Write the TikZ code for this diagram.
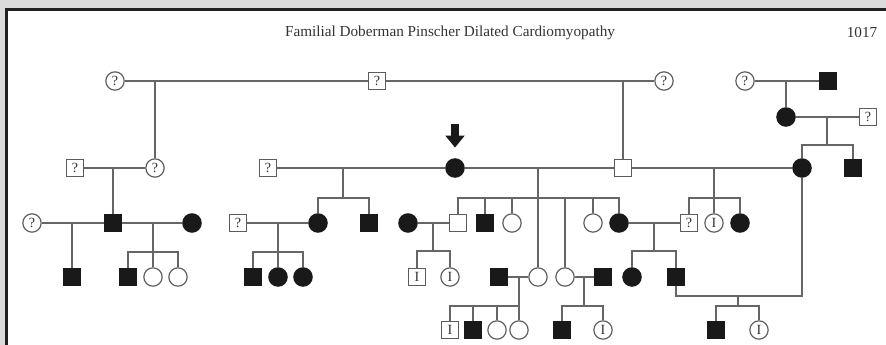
\documentclass[tikz,border=0pt]{standalone}
\usepackage{fontspec}
\setmainfont{Liberation Serif}
\usepackage{tikz}
\usetikzlibrary{calc,arrows.meta}
\usepackage{xcolor}
\definecolor{bgg}{gray}{0.86}
\definecolor{rim}{gray}{0.13}
\definecolor{lineg}{gray}{0.4}
\definecolor{symg}{gray}{0.36}
\definecolor{aff}{gray}{0.1}
\definecolor{txt}{gray}{0.2}

\begin{document}
\begin{tikzpicture}[x=0.3mm,y=-0.3mm,>={Triangle[length=3.6mm,width=5.6mm]},
  ln/.style={draw=lineg,line width=1.15pt},
  male/.style={rectangle,draw=symg,line width=1pt,fill=white,minimum size=5.3mm,inner sep=0pt,
    text=txt,font=\fontsize{12}{12}\selectfont},
  female/.style={male,circle,minimum size=5.5mm},
  maleA/.style={male,fill=aff,draw=aff},
  femaleA/.style={female,fill=aff,draw=aff},
  title/.style={text=txt,font=\fontsize{13}{13}\selectfont}]

\useasboundingbox (0,0) rectangle (886,345);
\fill[bgg] (0,0) rectangle (886,345);
\fill[white] (6.5,9.5) rectangle (886,345);
\draw[rim,line width=0.9mm] (6.5,345)--(6.5,9.5)--(886,9.5);

\node[title] (ttl) at (450,33) {Familial Doberman Pinscher Dilated Cardiomyopathy};
\node[title] (pg) at (862,33) {1017};

%generation I
\node[female] (a1) at (115,81) {?};
\node[male] (a2) at (377,81) {?};
\node[female] (a3) at (664,81) {?};
\node[female] (a4) at (745,81) {?};
\node[maleA] (a5) at (828,81) {};
\node[femaleA] (r1) at (786,117) {};
\node[male] (r2) at (868,117) {?};

%generation II
\node[male] (b1) at (75,168) {?};
\node[female] (b2) at (155,168) {?};
\node[male] (b3) at (268,168) {?};
\node[femaleA] (b4) at (455,168) {};
\node[male] (b5) at (623,168) {};
\node[femaleA] (b6) at (802,168) {};
\node[maleA] (b7) at (853,168) {};

%generation III
\node[female] (c1) at (32,223) {?};
\node[maleA] (c2) at (113,223) {};
\node[femaleA] (c3) at (192,223) {};
\node[male] (c4) at (238,223) {?};
\node[femaleA] (c5) at (318,223) {};
\node[maleA] (c6) at (369,223) {};
\node[femaleA] (c7) at (408,223) {};
\node[male] (c8) at (458,223) {};
\node[maleA] (c9) at (485,223) {};
\node[female] (c10) at (512,223) {};
\node[female] (c11) at (593,223) {};
\node[femaleA] (c12) at (619,223) {};
\node[male] (c13) at (689,223) {?};
\node[female] (c14) at (714,223) {I};
\node[femaleA] (c15) at (740,223) {};

%generation IV
\node[maleA] (d1) at (72,277) {};
\node[maleA] (d2) at (128,277) {};
\node[female] (d3) at (153,277) {};
\node[female] (d4) at (178,277) {};
\node[maleA] (d5) at (253,277) {};
\node[femaleA] (d6) at (278,277) {};
\node[femaleA] (d7) at (303,277) {};
\node[male] (d8) at (417,277) {I};
\node[female] (d9) at (450,277) {I};
\node[maleA] (d10) at (499,277) {};
\node[female] (d11) at (538,277) {};
\node[female] (d12) at (565,277) {};
\node[maleA] (d13) at (603,277) {};
\node[femaleA] (d14) at (632,277) {};
\node[maleA] (d15) at (676,277) {};

%generation V
\node[male] (e1) at (450,330) {I};
\node[maleA] (e2) at (473,330) {};
\node[female] (e3) at (497,330) {};
\node[female] (e4) at (519,330) {};
\node[maleA] (e5) at (562,330) {};
\node[female] (e6) at (603,330) {I};
\node[maleA] (e7) at (716,330) {};
\node[female] (e8) at (759,330) {I};

%proband
\coordinate (pa) at (455,124);
\draw [->,aff,line width=2.3mm,shorten >=3.2mm] (pa)--(b4);

%lines from I
\draw[ln] (a1)--(a2)--(a3);
\coordinate (m1) at (155,81);
\draw[ln] (m1)--(b2);
\coordinate (m2) at (623,81);
\draw[ln] (m2)--(b5);
\draw[ln] (a4)--(a5);
\coordinate (m3) at (786,81);
\draw[ln] (m3)--(r1);
\draw[ln] (r1)--(r2);
\coordinate (m4) at (827,117);
\coordinate (s4) at (827,145);
\draw[ln] (m4)--(s4);
\draw[ln] (b6) |- (s4) -| (b7);

%lines from II
\draw[ln] (b1)--(b2);
\coordinate (m5) at (113,168);
\draw[ln] (m5)--(c2);
\draw[ln] (b3)--(b4)--(b5)--(b6);
\coordinate (m6) at (343,168);
\coordinate (s6) at (343,198);
\draw[ln] (m6)--(s6);
\draw[ln] (c5) |- (s6) -| (c6);
\coordinate (m7) at (538,168);
\coordinate (s7) at (538,198);
\draw[ln] (m7)--(d11);
\draw[ln] (c8) |- (s7) -| (c12);
\foreach \k in {c9,c10,d12,c11} \draw[ln] (\k)--(\k |- s7);
\coordinate (m8) at (714,168);
\coordinate (s8) at (714,198);
\draw[ln] (m8)--(c14);
\draw[ln] (c13) |- (s8) -| (c15);

%lines from III
\draw[ln] (c1)--(c2)--(c3);
\coordinate (m9) at (72,223);
\draw[ln] (m9)--(d1);
\coordinate (m10) at (153,223);
\coordinate (s10) at (153,252);
\draw[ln] (m10)--(d3);
\draw[ln] (d2) |- (s10) -| (d4);
\draw[ln] (c4)--(c5);
\coordinate (m11) at (278,223);
\coordinate (s11) at (278,252);
\draw[ln] (m11)--(d6);
\draw[ln] (d5) |- (s11) -| (d7);
\draw[ln] (c7)--(c8);
\coordinate (m12) at (433,223);
\coordinate (s12) at (433,251);
\draw[ln] (m12)--(s12);
\draw[ln] (d8) |- (s12) -| (d9);
\draw[ln] (c12)--(c13);
\coordinate (m13) at (654,223);
\coordinate (s13) at (654,251);
\draw[ln] (m13)--(s13);
\draw[ln] (d14) |- (s13) -| (d15);

%lines from IV
\draw[ln] (d10)--(d11);
\coordinate (m14) at (519,277);
\coordinate (s14) at (519,306);
\draw[ln] (m14)--(e4);
\draw[ln] (e1) |- (s14);
\foreach \k in {e2,e3} \draw[ln] (\k)--(\k |- s14);
\draw[ln] (d12)--(d13);
\coordinate (m15) at (584,277);
\coordinate (s15) at (584,306);
\draw[ln] (m15)--(s15);
\draw[ln] (e5) |- (s15) -| (e6);
\coordinate (m16) at (738,296);
\coordinate (s16) at (738,306);
\draw[ln] (d15) |- (m16) -| (b6);
\draw[ln] (m16)--(s16);
\draw[ln] (e7) |- (s16) -| (e8);

\end{tikzpicture}
\end{document}
